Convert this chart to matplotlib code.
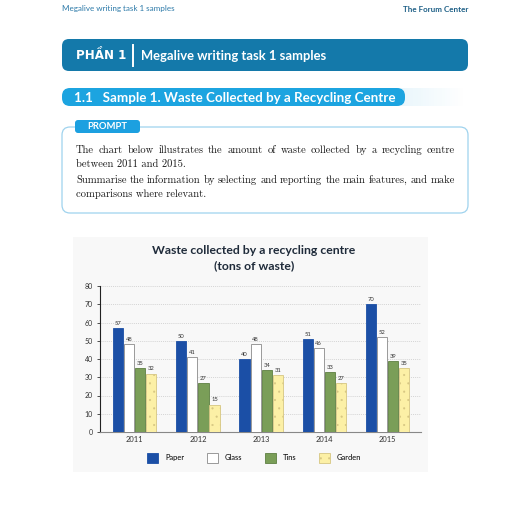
import matplotlib
matplotlib.use("Agg")
import numpy as np
import matplotlib.pyplot as plt
from matplotlib.patches import FancyBboxPatch, Rectangle

# chart data
years = ["2011", "2012", "2013", "2014", "2015"]
series = ["Paper", "Glass", "Tins", "Garden"]
paper = [57, 50, 40, 51, 70]
glass = [48, 41, 48, 46, 52]
tins = [35, 27, 34, 33, 39]
garden = [32, 15, 31, 27, 35]

# page texts
header_left = "Megalive writing task 1 samples"
header_right = "The Forum Center"
part_label = "PHẦN 1"
part_title = "Megalive writing task 1 samples"
section_title = "1.1   Sample 1. Waste Collected by a Recycling Centre"
prompt_lines = [
    ("The chart below illustrates the amount of waste collected by a recycling centre", True),
    ("between 2011 and 2015.", False),
    ("Summarise the information by selecting and reporting the main features, and make", True),
    ("comparisons where relevant.", False),
]

plt.rcParams["hatch.linewidth"] = 0.3
plt.rcParams["hatch.color"] = "#d6c682"

W, H = 506, 512
fig = plt.figure(figsize=(W / 100, H / 100), dpi=100)
fig.patch.set_facecolor("white")

# page layer in pixel coordinates
page = fig.add_axes([0, 0, 1, 1])
page.set_xlim(0, W)
page.set_ylim(H, 0)
page.axis("off")

sans = ["Lato", "DejaVu Sans"]

page.text(62, 9, header_left, fontsize=5.8, color="#2b79a8", va="center", family=sans)
page.text(468, 9, header_right, fontsize=5.8, color="#1d5f86", va="center",
          ha="right", fontweight="bold", family=sans)

# part banner
page.add_patch(FancyBboxPatch((62, 39), 406, 32, boxstyle="round,pad=0,rounding_size=7",
                              fc="#1479aa", ec="none"))
page.text(76, 55.5, part_label, fontsize=8.6, color="white", fontweight="bold",
          va="center", family=["DejaVu Sans"])
page.plot([133, 133], [45, 66], color="white", lw=1.4)
page.text(141, 55.5, part_title, fontsize=9.4, color="white", fontweight="bold",
          va="center", family=sans)

# section bar with fading tail
grad = np.linspace(1, 0, 100).reshape(1, -1)
tail = np.zeros((1, 100, 4))
tail[..., 0] = 0.11
tail[..., 1] = 0.64
tail[..., 2] = 0.87
tail[..., 3] = grad * 0.10
page.imshow(tail, extent=(398, 466, 106, 88), aspect="auto", zorder=1)
page.add_patch(FancyBboxPatch((62, 88), 343, 18, boxstyle="round,pad=0,rounding_size=8",
                              fc="#1ca4e0", ec="none", zorder=2))
page.text(74, 97.5, section_title, fontsize=9.6, color="white", fontweight="bold",
          va="center", family=sans, zorder=3)

# prompt box
page.add_patch(FancyBboxPatch((62, 127), 406, 86, boxstyle="round,pad=0,rounding_size=8",
                              fc="white", ec="#9fd3ee", lw=0.9, zorder=2))
page.add_patch(FancyBboxPatch((75, 120), 65, 13, boxstyle="round,pad=0,rounding_size=3",
                              fc="#1ca0e0", ec="none", zorder=3))
page.text(107.5, 126.5, "PROMPT", fontsize=6.8, color="white", fontweight="bold",
          ha="center", va="center", family=sans, zorder=4)

renderer = fig.canvas.get_renderer()
x0, x1 = 76, 455
for (line, justify), y in zip(prompt_lines, [150, 164, 180, 194]):
    if not justify:
        page.text(x0, y, line, fontsize=7.6, family="cmr10", color="#1a1a1a",
                  va="center", zorder=4)
        continue
    words = line.split(" ")
    objs = [page.text(0, y, w, fontsize=7.6, family="cmr10", color="#1a1a1a",
                      va="center", zorder=4) for w in words]
    widths = [o.get_window_extent(renderer).width for o in objs]
    gap = (x1 - x0 - sum(widths)) / (len(words) - 1)
    x = x0
    for o, w in zip(objs, widths):
        o.set_x(x)
        x += w + gap

# chart backdrop
page.add_patch(Rectangle((73, 237), 355, 235, fc="#f8f8f8", ec="none", zorder=0))

page.text(254, 250, "Waste collected by a recycling centre", fontsize=8.8,
          fontweight="bold", color="#1f2b3a", ha="center", va="center", family=sans)
page.text(254, 266, "(tons of waste)", fontsize=8.8, fontweight="bold",
          color="#1f2b3a", ha="center", va="center", family=sans)

# bar chart
ax = fig.add_axes([100 / W, 1 - 432 / H, 321 / W, 146 / H])
ax.set_facecolor("none")

values = [paper, glass, tins, garden]
faces = ["#1b4fa6", "white", "#7a9e58", "#fcf0a6"]
edges = ["#1b4fa6", "#8a8a8a", "#5e7f42", "#d6c682"]
hatches = [None, None, None, ".."]
x = np.arange(len(years))
step = 0.175
handles = []
for i, (vals, fc, ec, ht) in enumerate(zip(values, faces, edges, hatches)):
    pos = x + (i - 1.5) * step
    b = ax.bar(pos, vals, width=0.16, color=fc, edgecolor=ec, linewidth=0.6,
               hatch=ht, label=series[i], zorder=3)
    handles.append(b)
    for px, v in zip(pos, vals):
        ax.text(px, v + 1.2, str(v), ha="center", va="bottom", fontsize=4.2,
                color="#333333", family=sans)

ax.set_xlim(-0.55, 4.53)
ax.set_ylim(0, 80)
ax.set_yticks(range(0, 81, 10))
ax.set_xticks(x)
ax.set_xticklabels(years, family=sans)
ax.tick_params(axis="y", labelsize=5, length=2, width=0.6, pad=3, colors="#333333")
ax.tick_params(axis="x", labelsize=5.4, length=0, pad=3, colors="#333333")
for lbl in ax.get_yticklabels():
    lbl.set_family(sans)
ax.grid(axis="y", linestyle=(0, (1.5, 1.5)), color="#c8c8c8", lw=0.5, zorder=0)
for s in ["top", "right"]:
    ax.spines[s].set_visible(False)
ax.spines["left"].set_color("#222222")
ax.spines["left"].set_linewidth(0.8)
ax.spines["bottom"].set_color("#888888")
ax.spines["bottom"].set_linewidth(0.8)

fig.legend(handles=handles, loc="center", bbox_to_anchor=(254 / W, 1 - 458 / H),
           ncol=4, frameon=False, prop={"family": sans, "size": 5.4},
           handlelength=1.5, handleheight=1.5, handletextpad=0.9, columnspacing=3.0)

fig.savefig("out.png", dpi=100)
